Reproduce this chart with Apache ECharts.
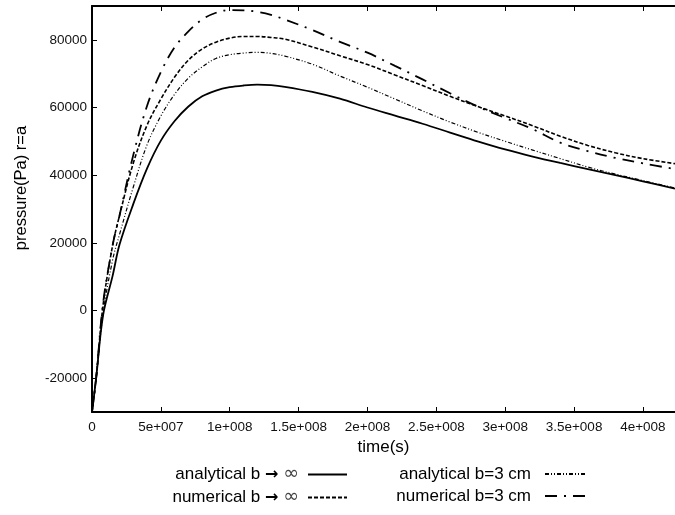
<!DOCTYPE html>
<html><head><meta charset="utf-8">
<script src="https://cdn.jsdelivr.net/npm/echarts@6/dist/echarts.min.js"></script>
<style>html,body{margin:0;padding:0;background:#fff}#c{width:675px;height:515px}</style>
</head><body><div id="c"></div>
<script>
// time (s)
const timeSec = [0, 3e6, 8e6, 1.5e7, 2e7, 3e7, 4e7, 5e7, 6e7, 7e7, 8e7, 9e7, 1e8, 1.1e8, 1.2e8, 1.3e8, 1.4e8, 1.6e8, 1.8e8, 2e8, 2.2e8, 2.4e8, 2.6e8, 2.8e8, 3e8, 3.2e8, 3.4e8, 3.6e8, 3.8e8, 4e8, 4.233e8];
// pressure (Pa) at r=a
const analyticalInf = [-30000, -20000, -1500, 10300, 19500, 31500, 42000, 50200, 56000, 60300, 63300, 65000, 66000, 66500, 66750, 66600, 66100, 64600, 62600, 60000, 57600, 55200, 52600, 50000, 47600, 45500, 43600, 41800, 40000, 38200, 36000];
const numericalInf = [-30000, -20000, 1500, 19300, 28100, 43600, 54800, 62500, 69000, 74000, 77300, 79300, 80500, 81000, 81000, 80700, 80200, 77900, 75300, 72700, 69600, 66500, 63300, 60300, 57500, 54600, 51500, 48800, 46600, 44900, 43400];
const analytical3cm = [-30000, -20000, -1000, 15000, 22500, 36500, 49000, 57500, 63900, 68700, 72000, 74500, 75600, 76100, 76300, 76000, 75200, 72800, 69300, 66000, 62500, 59000, 55700, 52700, 50000, 47400, 44900, 42400, 40300, 38400, 36200];
const numerical3cm = [-30000, -20000, 2000, 19300, 28100, 46000, 60500, 70500, 77800, 82500, 86000, 88000, 88800, 88700, 88300, 87400, 86000, 82900, 79400, 76200, 72300, 68300, 64200, 60300, 56900, 53600, 49600, 47100, 45100, 43500, 41800];

const seriesNames = ['analytical b \u2192 \u221E', 'numerical b \u2192 \u221E', 'analytical b=3 cm', 'numerical b=3 cm'];
const xTicks = [0, 5e7, 1e8, 1.5e8, 2e8, 2.5e8, 3e8, 3.5e8, 4e8];
const xTickLabels = ['0', '5e+007', '1e+008', '1.5e+008', '2e+008', '2.5e+008', '3e+008', '3.5e+008', '4e+008'];
const yTicks = [-20000, 0, 20000, 40000, 60000, 80000];
const yTickLabels = ['-20000', '0', '20000', '40000', '60000', '80000'];
const xName = 'time(s)';
const yName = 'pressure(Pa) r=a';

const pairs = vals => timeSec.map((t, i) => [t, vals[i]]);
const FONT = 'Liberation Sans, Arial, Helvetica, sans-serif';

const chart = echarts.init(document.getElementById('c'), null, {renderer: 'canvas'});
const xLabelFmt = v => { const i = xTicks.indexOf(v); return i >= 0 ? xTickLabels[i] : ''; };
const yLabelFmt = v => { const i = yTicks.indexOf(v); return i >= 0 ? yTickLabels[i] : ''; };

// legend text: put the arrow / infinity sign in their own rich styles
const legendFmt = name => {
  const m = name.match(/^(.*?b )(\u2192) (\u221E)$/);
  if (!m) return '{t|' + name + '}';
  return '{t|' + m[1] + '}{ar|' + m[2] + '}{t| }{inf|' + m[3] + '}';
};
const legendRich = {
  t: {fontFamily: FONT, fontSize: 17, color: '#000'},
  ar: {fontFamily: 'DejaVu Sans', fontSize: 16, fontWeight: 'bold', color: '#000'},
  inf: {fontFamily: 'DejaVu Sans', fontSize: 19, color: '#444'}
};

const mkSeries = (name, vals, lineType, width) => ({
  name, type: 'line', data: pairs(vals), xAxisIndex: 0, yAxisIndex: 0,
  symbol: 'none', smooth: 0.35, clip: true,
  lineStyle: {color: '#000', width, type: lineType},
  itemStyle: {color: '#000'}
});

const legendBase = {
  orient: 'vertical', align: 'right', top: 465,
  itemHeight: 14, itemGap: 4, padding: 0,
  itemStyle: {opacity: 0, color: 'transparent', borderWidth: 0},
  formatter: legendFmt
};

chart.setOption({
  animation: false,
  backgroundColor: '#fff',
  grid: {left: 92, right: 0, top: 6, bottom: 103, containLabel: false},
  xAxis: [{
    type: 'value', min: 0, max: 4.233e8, position: 'bottom',
    name: xName, nameLocation: 'middle', nameGap: 27,
    nameTextStyle: {fontFamily: FONT, fontSize: 17, color: '#000'},
    axisLine: {show: true, onZero: false, lineStyle: {color: '#000', width: 2}},
    axisTick: {show: true, inside: true, length: 5, customValues: xTicks, lineStyle: {color: '#000', width: 1}},
    axisLabel: {show: true, customValues: xTicks, formatter: xLabelFmt, margin: 8, fontFamily: FONT, fontSize: 13.5, color: '#111'},
    splitLine: {show: false}
  }, {
    type: 'value', min: 0, max: 4.233e8, position: 'top',
    axisLine: {show: true, onZero: false, lineStyle: {color: '#000', width: 2}},
    axisTick: {show: true, inside: true, length: 5, customValues: xTicks, lineStyle: {color: '#000', width: 1}},
    axisLabel: {show: false},
    splitLine: {show: false}
  }],
  yAxis: [{
    type: 'value', min: -30000, max: 90000,
    name: yName, nameLocation: 'middle', nameGap: 62,
    nameTextStyle: {fontFamily: FONT, fontSize: 16.5, color: '#000', padding: [0, 0, 0, 42]},
    axisLine: {show: true, onZero: false, lineStyle: {color: '#000', width: 2}},
    axisTick: {show: true, inside: true, length: 5, customValues: yTicks, lineStyle: {color: '#000', width: 1}},
    axisLabel: {show: true, customValues: yTicks, formatter: yLabelFmt, margin: 5, fontFamily: FONT, fontSize: 13.5, color: '#111'},
    splitLine: {show: false}
  }],
  legend: [Object.assign({}, legendBase, {
    data: [seriesNames[0], seriesNames[1]],
    right: 327, itemWidth: 39,
    textStyle: {fontFamily: FONT, fontSize: 17, color: '#000', lineHeight: 18, padding: [0, 4, 0, 0], rich: legendRich}
  }), Object.assign({}, legendBase, {
    data: [seriesNames[2], seriesNames[3]],
    right: 89, itemWidth: 40,
    textStyle: {fontFamily: FONT, fontSize: 17, color: '#000', lineHeight: 18, padding: [0, 9, 0, 0], rich: legendRich}
  })],
  series: [
    mkSeries(seriesNames[0], analyticalInf, 'solid', 1.8),
    mkSeries(seriesNames[1], numericalInf, [4, 2], 1.6),
    mkSeries(seriesNames[2], analytical3cm, [4, 2, 1, 2, 1, 2], 1.2),
    mkSeries(seriesNames[3], numerical3cm, [12, 7, 2, 7], 1.8)
  ]
});
</script>
</body></html>
